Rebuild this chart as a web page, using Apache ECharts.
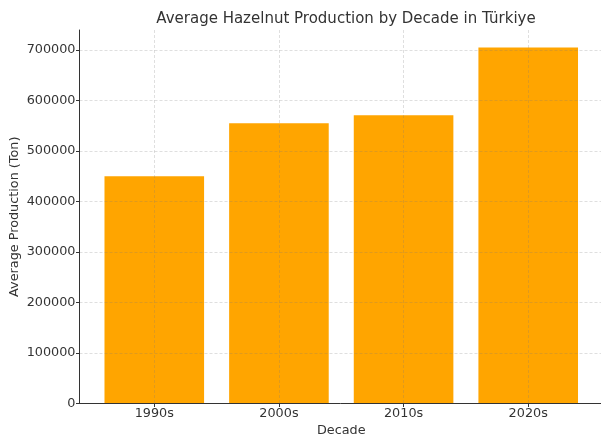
<!DOCTYPE html>
<html>
<head>
<meta charset="utf-8">
<script src="https://cdn.jsdelivr.net/npm/echarts@6/dist/echarts.min.js"></script>
<style>
  html, body { margin: 0; padding: 0; background: #fff; }
  #chart { width: 601px; height: 434px; }
</style>
</head>
<body>
<div id="chart"></div>
<script>
const decades = ['1990s', '2000s', '2010s', '2020s']
const production = [450000, 555000, 571000, 705000]
const yTicks = [0, 100000, 200000, 300000, 400000, 500000, 600000, 700000]

const font = 'DejaVu Sans'
const textColor = '#333'
const gridColor = 'rgba(120,120,120,0.3)'
const chart = echarts.init(document.getElementById('chart'))

chart.setOption({
  backgroundColor: '#fff',
  animation: false,
  title: {
    text: 'Average Hazelnut Production by Decade in Türkiye',
    left: 341,
    top: 7,
    textAlign: 'center',
    textStyle: { fontFamily: font, fontSize: 15, fontWeight: 'normal', color: textColor },
  },
  grid: { left: 79.5, right: -2, top: 30, bottom: 30.5, outerBoundsMode: 'none', containLabel: false },
  xAxis: {
    type: 'value',
    min: -0.6,
    max: 3.6,
    name: 'Decade',
    nameLocation: 'middle',
    nameGap: 21,
    nameMoveOverlap: false,
    nameTextStyle: { fontFamily: font, fontSize: 12.8, color: textColor },
    z: 5,
    axisLine: { show: true, onZero: false, lineStyle: { color: '#333', width: 1 } },
    axisTick: { show: true, length: 3.5, customValues: [0, 1, 2, 3], lineStyle: { color: '#333' } },
    axisLabel: {
      customValues: [0, 1, 2, 3],
      formatter: v => decades[Math.round(v)],
      fontFamily: font,
      fontSize: 12.8,
      color: textColor,
      margin: 4,
    },
    splitLine: { show: true, lineStyle: { color: gridColor, type: [3, 2], width: 0.8 } },
  },
  yAxis: {
    type: 'value',
    min: 0,
    max: 739600,
    name: 'Average Production (Ton)',
    nameLocation: 'middle',
    nameGap: 58,
    nameMoveOverlap: false,
    nameTextStyle: { fontFamily: font, fontSize: 12.8, color: textColor },
    z: 5,
    axisLine: { show: true, onZero: false, lineStyle: { color: '#333', width: 1 } },
    axisTick: { show: true, length: 3.5, customValues: yTicks, lineStyle: { color: '#333' } },
    axisLabel: {
      customValues: yTicks,
      formatter: v => String(v),
      fontFamily: font,
      fontSize: 12.8,
      color: textColor,
      margin: 4,
    },
    splitLine: { show: true, lineStyle: { color: gridColor, type: [3, 2], width: 0.8 } },
  },
  series: [
    {
      type: 'bar',
      data: production.map((v, i) => [i, v]),
      barWidth: 99.6,
      itemStyle: { color: '#ffa500' },
    },
  ],
})
</script>
</body>
</html>
